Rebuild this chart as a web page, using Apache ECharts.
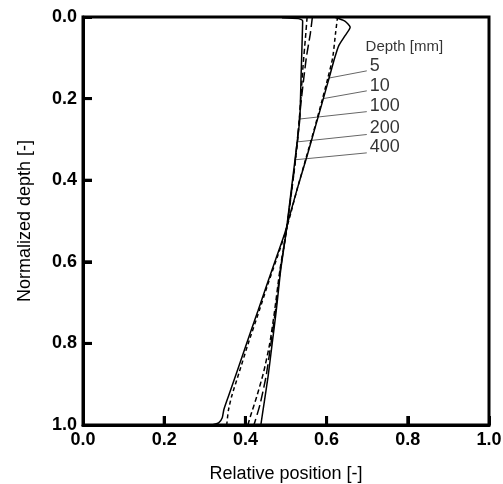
<!DOCTYPE html>
<html>
<head>
<meta charset="utf-8">
<script src="https://cdn.jsdelivr.net/npm/echarts@6/dist/echarts.min.js"></script>
<style>html,body{margin:0;padding:0;background:#fff;}#c{width:503px;height:484px;}</style>
</head>
<body>
<div id="c"></div>
<script>
// ---- data: [relative position, normalized depth] ----
const curve5 = [[0.618,0.0],[0.645,0.01],[0.658,0.025],[0.646,0.045],[0.630,0.07],[0.620,0.10],[0.606,0.15],[0.592,0.20],[0.572,0.27],[0.552,0.34],[0.528,0.42],[0.511,0.48],[0.497,0.53],[0.476,0.59],[0.455,0.65],[0.431,0.72],[0.403,0.80],[0.379,0.87],[0.358,0.93],[0.347,0.962],[0.343,0.982],[0.334,0.995],[0.318,1.0]];
const curve10 = [[0.627,0.0],[0.622,0.04],[0.615,0.10],[0.603,0.15],[0.590,0.20],[0.571,0.27],[0.551,0.34],[0.528,0.42],[0.512,0.48],[0.498,0.53],[0.478,0.59],[0.457,0.65],[0.434,0.72],[0.407,0.80],[0.385,0.87],[0.366,0.93],[0.358,0.965],[0.354,1.0]];
const curve100 = [[0.49,0.002],[0.53,0.004],[0.541,0.009],[0.540,0.05],[0.537,0.15],[0.534,0.25],[0.527,0.31],[0.521,0.36],[0.511,0.44],[0.500,0.53],[0.487,0.62],[0.476,0.72],[0.466,0.80],[0.456,0.88],[0.447,0.94],[0.438,1.0]];
const curve200 = [[0.552,0.0],[0.548,0.05],[0.542,0.12],[0.535,0.22],[0.529,0.30],[0.521,0.37],[0.511,0.45],[0.500,0.53],[0.485,0.62],[0.472,0.72],[0.460,0.80],[0.445,0.87],[0.428,0.93],[0.412,0.98],[0.406,1.0]];
const curve400 = [[0.565,0.0],[0.560,0.04],[0.550,0.10],[0.538,0.20],[0.530,0.28],[0.522,0.36],[0.512,0.44],[0.500,0.53],[0.486,0.62],[0.474,0.72],[0.463,0.80],[0.451,0.88],[0.436,0.95],[0.421,1.0]];

const depthNames = ['5','10','100','200','400'];
const legendTitle = 'Depth [mm]';
// leader line anchor on curve and label position
const anchorPts = [[0.604,0.150],[0.592,0.200],[0.534,0.250],[0.529,0.306],[0.522,0.350]];
const leaderEnds = [[0.699,0.132],[0.699,0.181],[0.699,0.232],[0.699,0.288],[0.699,0.333]];
const labelPts = [[0.706,0.120],[0.706,0.170],[0.706,0.219],[0.706,0.273],[0.706,0.318]];
const titlePt = [0.696,0.073];

// inner tick values (both axes)
const xTickVals = [0.2,0.4,0.6,0.8];
const yTickVals = [0.2,0.4,0.6,0.8];

const FONT = '"Liberation Sans", Arial, Helvetica, sans-serif';
const TICK_LEN = 9;
const chart = echarts.init(document.getElementById('c'), null, {renderer:'canvas'});

function curveSeries(name, data, type) {
  return {
    name: name, type: 'line', data: data, showSymbol: false, symbol: 'none',
    smooth: 0.2, animation: false, z: 3,
    lineStyle: {color: '#000', width: 1.5, type: type}
  };
}

const series = [
  curveSeries('5', curve5, 'solid'),
  curveSeries('10', curve10, [4,3]),
  curveSeries('100', curve100, 'solid'),
  curveSeries('200', curve200, [5,3]),
  curveSeries('400', curve400, [10,4])
];

depthNames.forEach((n, i) => {
  series.push({
    type: 'line', data: [anchorPts[i], leaderEnds[i]], showSymbol: false, symbol: 'none',
    animation: false, silent: true, z: 2,
    lineStyle: {color: '#666', width: 1}
  });
});

series.push({
  type: 'scatter', symbolSize: 0, animation: false, silent: true,
  data: labelPts.map((p, i) => ({value: p, name: depthNames[i]})),
  label: {show: true, position: 'right', distance: 0, formatter: '{b}',
    color: '#000', fontSize: 18, fontFamily: FONT}
});
series.push({
  type: 'scatter', symbolSize: 0, animation: false, silent: true,
  data: [{value: titlePt, name: legendTitle}],
  label: {show: true, position: 'right', distance: 0, formatter: '{b}',
    color: '#000', fontSize: 15, fontFamily: FONT}
});

// inward ticks on the bottom axis, placed through the axis scale
series.push({
  type: 'custom', animation: false, silent: true, clip: false, z: 5,
  data: xTickVals.map(v => [v, 1]),
  renderItem: function (params, api) {
    const p = api.coord([api.value(0), api.value(1)]);
    return {type: 'line', shape: {x1: p[0], y1: p[1], x2: p[0], y2: p[1] - TICK_LEN},
      style: {stroke: '#000', lineWidth: 3}};
  }
});
// inward ticks on the left axis
series.push({
  type: 'custom', animation: false, silent: true, clip: false, z: 5,
  data: yTickVals.map(v => [0, v]),
  renderItem: function (params, api) {
    const p = api.coord([api.value(0), api.value(1)]);
    return {type: 'line', shape: {x1: p[0], y1: p[1], x2: p[0] + TICK_LEN, y2: p[1]},
      style: {stroke: '#000', lineWidth: 3}};
  }
});

chart.setOption({
  animation: false,
  grid: {left: 83, top: 17, right: 14, bottom: 59, show: true, borderColor: '#000', borderWidth: 3,
    outerBoundsMode: 'none'},
  xAxis: {
    type: 'value', min: 0, max: 1, interval: 0.2,
    name: 'Relative position [-]', nameLocation: 'middle', nameGap: 40,
    nameTextStyle: {color: '#000', fontSize: 18, fontFamily: FONT},
    axisLine: {show: true, onZero: false, lineStyle: {color: '#000', width: 3}},
    axisTick: {show: true, inside: true, length: TICK_LEN, lineStyle: {color: '#000', width: 3}},
    axisLabel: {color: '#000', fontSize: 18, fontWeight: 'bold', fontFamily: FONT, margin: 6,
      formatter: v => v.toFixed(1)},
    splitLine: {show: false}
  },
  yAxis: {
    type: 'value', min: 0, max: 1, interval: 0.2, inverse: true,
    name: 'Normalized depth [-]', nameLocation: 'middle', nameGap: 49,
    nameTextStyle: {color: '#000', fontSize: 18, fontFamily: FONT},
    axisLine: {show: true, onZero: false, lineStyle: {color: '#000', width: 3}},
    axisTick: {show: true, inside: true, length: TICK_LEN, lineStyle: {color: '#000', width: 3}},
    axisLabel: {color: '#000', fontSize: 18, fontWeight: 'bold', fontFamily: FONT, margin: 6,
      formatter: v => v.toFixed(1)},
    splitLine: {show: false}
  },
  series: series
});
</script>
</body>
</html>
